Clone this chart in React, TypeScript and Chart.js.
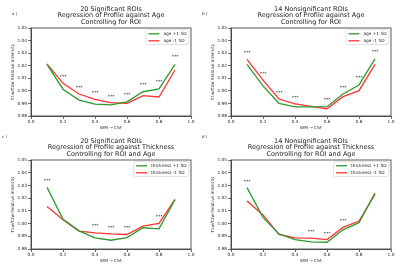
import React, { useEffect, useRef } from "react";
import { Chart, registerables } from "chart.js";

Chart.register(...registerables);

// ---------- data ----------
const X_POS = [0.1, 0.2, 0.3, 0.4, 0.5, 0.6, 0.7, 0.8, 0.9];

const A_PLUS = [1.0211, 1.0013, 0.9927, 0.9895, 0.9888, 0.9913, 0.9993, 1.0015, 1.0211];
const A_MINUS = [1.0214, 1.006, 0.9975, 0.9933, 0.9906, 0.99, 0.9962, 0.9951, 1.0166];
const A_STAR_X = [0.2, 0.3, 0.4, 0.5, 0.6, 0.7, 0.8, 0.9];
const A_STAR_Y = [1.0113, 1.0025, 0.9986, 0.9956, 0.9967, 1.0047, 1.007, 1.0267];

const B_PLUS = [1.0211, 1.0039, 0.9901, 0.9872, 0.9872, 0.9874, 0.9975, 1.0047, 1.0254];
const B_MINUS = [1.0251, 1.0086, 0.9935, 0.9896, 0.9877, 0.9858, 0.9954, 1.0002, 1.0211];
const B_STAR_X = [0.1, 0.2, 0.3, 0.4, 0.6, 0.7, 0.8, 0.9];
const B_STAR_Y = [1.0301, 1.0137, 0.9988, 0.9943, 0.9927, 1.0023, 1.01, 1.0309];

const C_PLUS = [1.0285, 1.0033, 0.9943, 0.9888, 0.9869, 0.989, 0.9967, 0.9959, 1.0187];
const C_MINUS = [1.0134, 1.0031, 0.9941, 0.9927, 0.9919, 0.9914, 0.998, 1.0002, 1.019];
const C_STAR_X = [0.1, 0.4, 0.5, 0.6, 0.8];
const C_STAR_Y = [1.0333, 0.998, 0.997, 0.9967, 1.0055];

const D_PLUS = [1.0283, 1.0049, 0.9919, 0.9874, 0.9856, 0.9853, 0.9951, 1.0007, 1.024];
const D_MINUS = [1.0177, 1.0068, 0.9914, 0.9888, 0.9885, 0.9874, 0.997, 1.002, 1.023];
const D_STAR_X = [0.1, 0.5, 0.6, 0.7];
const D_STAR_Y = [1.0328, 0.9935, 0.9922, 1.0023];

const AGE_LABELS = ["age +1 SD", "age -1 SD"];
const THICK_LABELS = ["thickness +1 SD", "thickness -1 SD"];

const TITLE_A = ["20 Significant ROIs", "Regression of Profile against Age", "Controlling for ROI"];
const TITLE_B = ["14 Nonsignificant ROIs", "Regression of Profile against Age", "Controlling for ROI"];
const TITLE_C = ["20 Significant ROIs", "Regression of Profile against Thickness", "Controlling for ROI and Age"];
const TITLE_D = ["14 Nonsignificant ROIs", "Regression of Profile against Thickness", "Controlling for ROI and Age"];

const Y_MIN = 0.98;
const Y_MAX = 1.05;
const X_TITLE = "WM \u2192 CSF";
const Y_TITLE = "T1w/T2w Relative Intensity";

// ---------- style ----------
const FONT = "DejaVu Sans";
const TEXT = "#262626";
const GREEN = "#2e9a2e";
const RED = "#ff3333";

type PanelProps = {
  tag: string;
  tagX: number;
  tagY: number;
  title: string[];
  labels: string[];
  plus: number[];
  minus: number[];
  starX: number[];
  starY: number[];
  height: number;
};

function Panel(p: PanelProps) {
  const ref = useRef<HTMLCanvasElement | null>(null);
  useEffect(() => {
    if (!ref.current) return;
    const overlay = {
      id: "overlay",
      afterDraw(chart: any) {
        const ctx = chart.ctx;
        const ca = chart.chartArea;
        const xs = chart.scales.x;
        const ys = chart.scales.y;
        ctx.save();
        // frame
        ctx.strokeStyle = "#333";
        ctx.lineWidth = 0.8;
        ctx.strokeRect(ca.left, ca.top, ca.right - ca.left, ca.bottom - ca.top);
        // stars
        ctx.fillStyle = "#333";
        ctx.font = `4.5px "${FONT}"`;
        ctx.textAlign = "center";
        ctx.textBaseline = "middle";
        p.starX.forEach((sx, i) => {
          ctx.fillText("***", xs.getPixelForValue(sx), ys.getPixelForValue(p.starY[i]));
        });
        // title
        ctx.fillStyle = TEXT;
        ctx.font = `6.5px "${FONT}"`;
        const cx = (ca.left + ca.right) / 2;
        const lineYs = [9.3, 15.8, 22.3];
        p.title.forEach((t, i) => ctx.fillText(t, cx, lineYs[i]));
        // tag
        ctx.font = `4px "${FONT}"`;
        ctx.textAlign = "left";
        ctx.fillText(p.tag, p.tagX, p.tagY);
        // legend
        ctx.font = `4.3px "${FONT}"`;
        const ds = chart.data.datasets;
        let tw = 0;
        ds.forEach((d: any) => (tw = Math.max(tw, ctx.measureText(d.label).width)));
        const w = 2.5 + 11 + 4 + tw + 2.5;
        const h = 15;
        const bx = ca.right - 2 - w;
        const by = ca.top + 1.5;
        ctx.fillStyle = "rgba(255,255,255,0.9)";
        ctx.strokeStyle = "#d0d0d0";
        ctx.lineWidth = 0.6;
        ctx.beginPath();
        if ((ctx as any).roundRect) (ctx as any).roundRect(bx, by, w, h, 1.5);
        else ctx.rect(bx, by, w, h);
        ctx.fill();
        ctx.stroke();
        ds.forEach((d: any, i: number) => {
          const ly = by + 4.3 + i * 7;
          ctx.strokeStyle = d.borderColor;
          ctx.lineWidth = 1.3;
          ctx.beginPath();
          ctx.moveTo(bx + 2.5, ly);
          ctx.lineTo(bx + 13.5, ly);
          ctx.stroke();
          ctx.fillStyle = TEXT;
          ctx.fillText(d.label, bx + 17.5, ly);
        });
        ctx.restore();
      },
    };
    const tickFont = { family: FONT, size: 4.3 };
    const chart = new Chart(ref.current, {
      type: "line",
      data: {
        datasets: [
          {
            label: p.labels[0],
            data: X_POS.map((x, i) => ({ x, y: p.plus[i] })),
            borderColor: GREEN,
            borderWidth: 1.3,
            pointRadius: 0,
            tension: 0,
            fill: false,
          },
          {
            label: p.labels[1],
            data: X_POS.map((x, i) => ({ x, y: p.minus[i] })),
            borderColor: RED,
            borderWidth: 1.3,
            pointRadius: 0,
            tension: 0,
            fill: false,
          },
        ],
      },
      options: {
        animation: false,
        responsive: false,
        maintainAspectRatio: false,
        layout: { padding: { top: 28, right: 9, left: 0, bottom: 0 } },
        plugins: {
          legend: { display: false },
          title: { display: false },
          tooltip: { enabled: false },
        },
        scales: {
          x: {
            type: "linear",
            min: 0,
            max: 1,
            ticks: {
              stepSize: 0.2,
              callback: (v: any) => Number(v).toFixed(1),
              font: tickFont,
              color: TEXT,
              padding: 0.5,
              maxRotation: 0,
            },
            grid: { drawOnChartArea: false, tickLength: 3, color: "#333", lineWidth: 0.7 },
            border: { color: "#333", width: 0.8 },
            title: {
              display: true,
              text: X_TITLE,
              font: { family: FONT, size: 4.2 },
              color: TEXT,
              padding: { top: 0, bottom: 2 },
            },
            afterFit: (s: any) => {
              s.height = 16;
            },
          },
          y: {
            min: Y_MIN,
            max: Y_MAX,
            ticks: {
              stepSize: 0.01,
              callback: (v: any) => Number(v).toFixed(2),
              font: tickFont,
              color: TEXT,
              padding: 1,
            },
            grid: { drawOnChartArea: false, tickLength: 3, color: "#333", lineWidth: 0.7 },
            border: { color: "#333", width: 0.8 },
            title: {
              display: true,
              text: Y_TITLE,
              font: { family: FONT, size: 4.2 },
              color: TEXT,
              padding: { top: 10.5, bottom: 0 },
            },
            afterFit: (s: any) => {
              s.width = 31;
            },
          },
        },
      } as any,
      plugins: [overlay],
    });
    return () => chart.destroy();
  }, []);
  return <canvas ref={ref} width={200} height={p.height} style={{ display: "block", width: 200, height: p.height }} />;
}

export default function App() {
  return (
    <div style={{ position: "fixed", left: 0, top: 0, width: 400, height: 265, background: "#fff", overflow: "hidden" }}>
      <div style={{ position: "absolute", left: 0, top: 0 }}>
        <Panel tag="a )" tagX={12} tagY={14} title={TITLE_A} labels={AGE_LABELS} plus={A_PLUS} minus={A_MINUS} starX={A_STAR_X} starY={A_STAR_Y} height={132} />
      </div>
      <div style={{ position: "absolute", left: 200, top: 0 }}>
        <Panel tag="b )" tagX={2} tagY={14} title={TITLE_B} labels={AGE_LABELS} plus={B_PLUS} minus={B_MINUS} starX={B_STAR_X} starY={B_STAR_Y} height={132} />
      </div>
      <div style={{ position: "absolute", left: 0, top: 132 }}>
        <Panel tag="c )" tagX={2} tagY={5} title={TITLE_C} labels={THICK_LABELS} plus={C_PLUS} minus={C_MINUS} starX={C_STAR_X} starY={C_STAR_Y} height={133} />
      </div>
      <div style={{ position: "absolute", left: 200, top: 132 }}>
        <Panel tag="d )" tagX={2} tagY={5} title={TITLE_D} labels={THICK_LABELS} plus={D_PLUS} minus={D_MINUS} starX={D_STAR_X} starY={D_STAR_Y} height={133} />
      </div>
    </div>
  );
}
